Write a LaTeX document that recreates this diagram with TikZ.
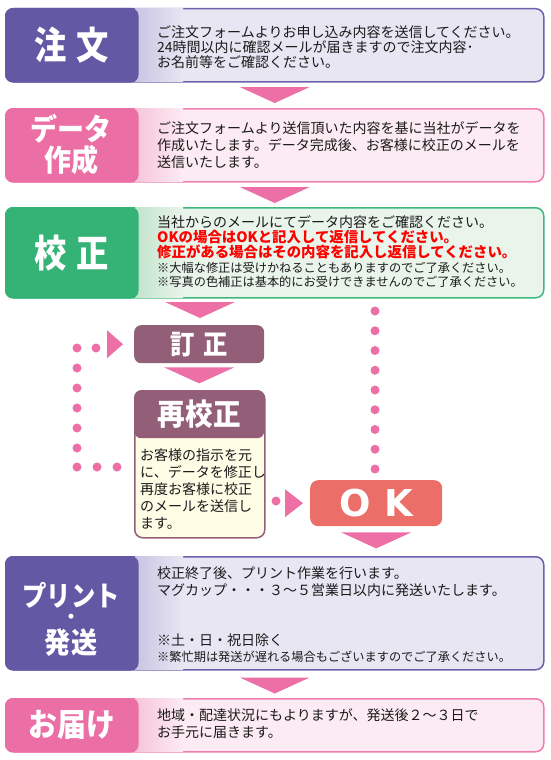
\documentclass[tikz,border=0pt]{standalone}
\usepackage{fontspec}
\setmainfont{Noto Sans CJK JP}
\newfontfamily\okfont{DejaVu Sans}
\usetikzlibrary{calc}
\definecolor{purD}{HTML}{6258A4}
\definecolor{purB}{HTML}{6C63AE}
\definecolor{purL}{HTML}{E8E6F3}
\definecolor{purM}{HTML}{C9C4E2}
\definecolor{pinkD}{HTML}{EB6FA5}
\definecolor{pinkB}{HTML}{EE7FB1}
\definecolor{pinkL}{HTML}{FDEBF3}
\definecolor{pinkM}{HTML}{F6C5DA}
\definecolor{grnD}{HTML}{35B275}
\definecolor{grnB}{HTML}{40B77C}
\definecolor{grnL}{HTML}{E9F4EA}
\definecolor{grnM}{HTML}{C2E4CC}
\definecolor{mauve}{HTML}{935E77}
\definecolor{salmon}{HTML}{EC6E68}
\definecolor{yelL}{HTML}{FFFDE6}
\definecolor{arrP}{HTML}{EC6FA5}
\definecolor{txtc}{HTML}{1A1A1A}
\definecolor{redt}{HTML}{FF0000}
\tikzset{
 outerbox/.style={draw, rounded corners=8pt, minimum width=538pt, anchor=north west, line width=1.5pt, inner sep=0pt},
 panel/.style={draw, rounded corners=7pt, minimum width=132pt, anchor=north west, line width=1.5pt, inner sep=0pt, text=white, align=center},
 lbltxt/.style={inner sep=0pt, text=white},
 txt/.style={anchor=west, inner sep=0pt, text=txtc, font=\fontsize{14}{16}\selectfont},
 txtred/.style={anchor=west, inner sep=0pt, text=redt, font=\bfseries\fontsize{14.4}{16}\selectfont},
 txtsm/.style={anchor=west, inner sep=0pt, text=txtc, font=\fontsize{12.2}{14}\selectfont},
 tri/.style={fill=arrP},
 dot/.style={fill=arrP},
 mauvebox/.style={fill=mauve, rounded corners=7pt, anchor=north west, minimum width=130pt, inner sep=0pt, text=white},
}
\newcommand\lblfont[1]{\bfseries\fontsize{#1}{#1}\selectfont}
\newcommand\downtri[1]{\fill[tri] #1 ++(-35,0) -- ++(70,0) -- ++(-35,16) -- cycle;}
\begin{document}
\begin{tikzpicture}[x=1pt,y=-1pt]
\useasboundingbox (0,0) rectangle (550,760);
% ---------- box 1 : 注文
\node[outerbox, draw=purB, fill=purL, minimum height=73pt] (b1) at (5,8) {};
\shade[left color=purM, right color=purL] ([xshift=130pt,yshift=-0.8pt]b1.north west) rectangle ([xshift=178pt,yshift=0.8pt]b1.south west);
\node[panel, draw=purD, fill=purD, minimum height=73pt] (l1) at (5,8) {\scalebox{0.85}[1]{\lblfont{38}注\hspace{12pt}文}};
\node[txt] (t1a) at (157,32) {ご注文フォームよりお申し込み内容を送信してください。};
\node[txt] (t1b) at (157,47) {24時間以内に確認メールが届きますので注文内容･};
\node[txt] (t1c) at (157,62) {お名前等をご確認ください。};
\downtri{($(b1.south)+(0,4.5)$)}
% ---------- box 2 : データ作成
\node[outerbox, draw=pinkB, fill=pinkL, minimum height=73pt] (b2) at (5,108) {};
\shade[left color=pinkM, right color=pinkL] ([xshift=130pt,yshift=-0.8pt]b2.north west) rectangle ([xshift=178pt,yshift=0.8pt]b2.south west);
\node[panel, draw=pinkD, fill=pinkD, minimum height=73pt] (l2) at (5,108) {};
\node[lbltxt] (l2a) at (71,129) {\scalebox{0.9}[1]{\lblfont{30}データ}};
\node[lbltxt] (l2b) at (71,160) {\scalebox{0.9}[1]{\lblfont{30}作成}};
\node[txt] (t2a) at (157,128) {ご注文フォームより送信頂いた内容を基に当社がデータを};
\node[txt] (t2b) at (157,145) {作成いたします。データ完成後、お客様に校正のメールを};
\node[txt] (t2c) at (157,162) {送信いたします。};
\downtri{($(b2.south)+(0,4.5)$)}
% ---------- box 3 : 校正
\node[outerbox, draw=grnB, fill=grnL, minimum height=90pt] (b3) at (5,207) {};
\shade[left color=grnM, right color=grnL] ([xshift=130pt,yshift=-0.8pt]b3.north west) rectangle ([xshift=178pt,yshift=0.8pt]b3.south west);
\node[panel, draw=grnD, fill=grnD, minimum height=90pt] (l3) at (5,207) {\scalebox{0.85}[1]{\lblfont{38}校\hspace{12pt}正}};
\node[txt] (t3a) at (157,222) {当社からのメールにてデータ内容をご確認ください。};
\node[txtred] (t3b) at (157,237) {OKの場合はOKと記入して返信してください。};
\node[txtred] (t3c) at (157,252) {修正がある場合はその内容を記入し返信してください。};
\node[txtsm] (t3d) at (157,268) {※大幅な修正は受けかねることもありますのでご了承ください。};
\node[txtsm] (t3e) at (157,282) {※写真の色補正は基本的にお受けできませんのでご了承ください。};
% ---------- correction loop
\downtri{(200,302)}
\node[mauvebox, minimum height=38pt] (tei) at (134,325) {\scalebox{0.9}[1]{\lblfont{27}訂\hspace{10pt}正}};
\downtri{($(tei.south)+(0,4)$)}
\node[draw=mauve, fill=yelL, line width=1.5pt, rounded corners=8pt, anchor=north west, minimum width=130pt, minimum height=147pt, inner sep=0pt] (rk) at (134,390) {};
\node[mauvebox, minimum height=48pt] (rkh) at (134,390) {\scalebox{0.92}[1]{\lblfont{30}再校正}};
\node[txt] (r1) at (140,455) {お客様の指示を元};
\node[txt] (r2) at (140,472) {に、データを修正し};
\node[txt] (r3) at (140,489) {再度お客様に校正};
\node[txt] (r4) at (140,506) {のメールを送信し};
\node[txt] (r5) at (140,523) {ます。};
% dotted return path
\foreach \y in {348,368,388,408,428,448,467} \fill[dot] (77,\y) circle (4.5pt);
\fill[dot] (96,348) circle (4.5pt);
\fill[dot] (97,467) circle (4.5pt);
\fill[dot] (117,467) circle (4.5pt);
\fill[tri] ($(tei.west)+(-27,-14)$) -- ($(tei.west)+(-27,14)$) -- ($(tei.west)+(-11,0)$) -- cycle;
% OK
\node[fill=salmon, rounded corners=8pt, minimum width=132pt, minimum height=46pt, anchor=north west, inner sep=0pt, text=white] (ok) at (310,480) {\okfont\bfseries\fontsize{37}{37}\selectfont O\hspace{14pt}K};
\foreach \i in {0,...,8} \fill[dot] (375,311+19.75*\i) circle (4.5pt);
\fill[dot] (276,501) circle (4.5pt);
\fill[tri] ($(ok.west)+(-25,-14)$) -- ($(ok.west)+(-25,14)$) -- ($(ok.west)+(-7,0)$) -- cycle;
\downtri{($(ok.south)+(0,6)$)}
% ---------- box 4 : プリント・発送
\node[outerbox, draw=purB, fill=purL, minimum height=113pt] (b4) at (5,556) {};
\shade[left color=purM, right color=purL] ([xshift=130pt,yshift=-0.8pt]b4.north west) rectangle ([xshift=178pt,yshift=0.8pt]b4.south west);
\node[panel, draw=purD, fill=purD, minimum height=113pt] (l4) at (5,556) {};
\node[lbltxt] (l4a) at (71,595) {\scalebox{0.87}[1]{\lblfont{28}プリント}};
\node[lbltxt] (l4b) at (71,619) {\lblfont{18}・};
\node[lbltxt] (l4c) at (71,643) {\scalebox{0.9}[1]{\lblfont{29}発送}};
\node[txt] (t4a) at (157,573) {校正終了後、プリント作業を行います。};
\node[txt] (t4b) at (157,590) {マグカップ・・・３～５営業日以内に発送いたします。};
\node[txt] (t4c) at (157,640) {※土・日・祝日除く};
\node[txtsm] (t4d) at (157,657) {※繁忙期は発送が遅れる場合もございますのでご了承ください。};
\downtri{($(b4.south)+(0,7)$)}
% ---------- box 5 : お届け
\node[outerbox, draw=pinkB, fill=pinkL, minimum height=53pt] (b5) at (5,698) {};
\shade[left color=pinkM, right color=pinkL] ([xshift=130pt,yshift=-0.8pt]b5.north west) rectangle ([xshift=178pt,yshift=0.8pt]b5.south west);
\node[panel, draw=pinkD, fill=pinkD, minimum height=53pt] (l5) at (5,698) {\scalebox{0.9}[1]{\lblfont{32}お届け}};
\node[txt] (t5a) at (157,715) {地域・配達状況にもよりますが、発送後２～３日で};
\node[txt] (t5b) at (157,732) {お手元に届きます。};
\end{tikzpicture}
\end{document}
